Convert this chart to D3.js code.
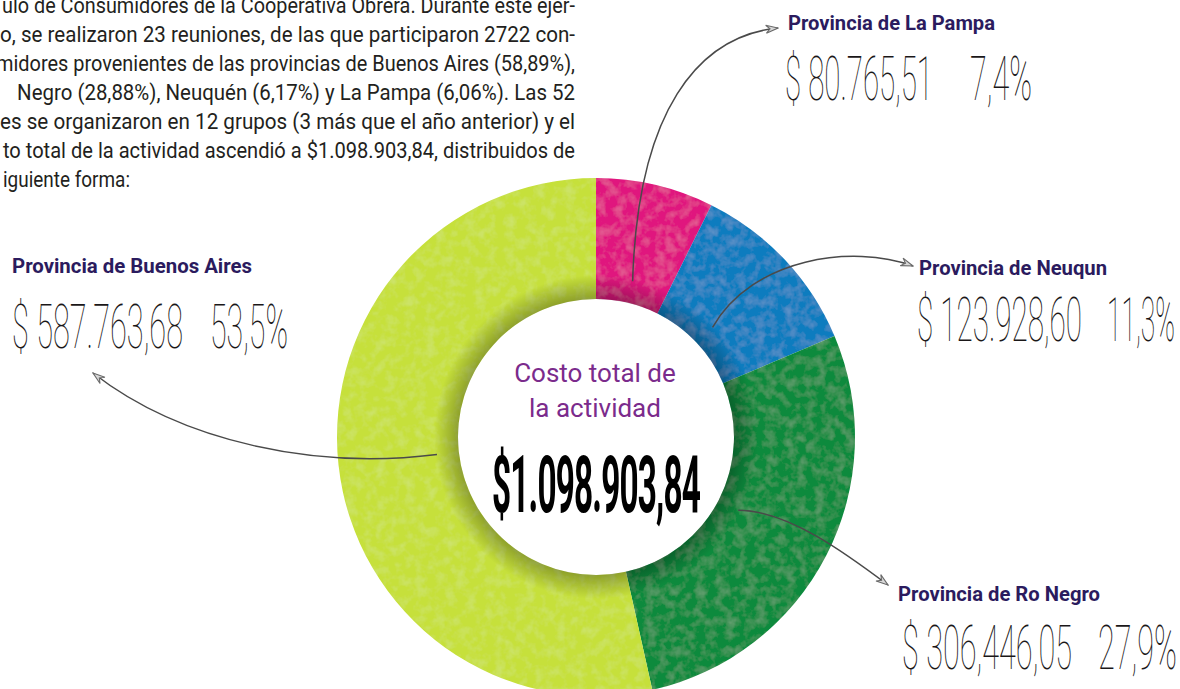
<!DOCTYPE html>
<html>
<head>
<meta charset="utf-8">
<script src="https://cdn.jsdelivr.net/npm/d3@7"></script>
<style>
  html, body { margin: 0; padding: 0; background: #fff; }
  svg { display: block; }
</style>
</head>
<body>
<div id="chart"></div>
<script>
// data
var provinces = ["Provincia de La Pampa", "Provincia de Neuqun", "Provincia de Ro Negro", "Provincia de Buenos Aires"];
var amounts = [80765.51, 123928.60, 306446.05, 587763.68];
var amountLabels = ["$ 80.765,51", "$ 123.928,60", "$ 306,446,05", "$ 587.763,68"];
var percentLabels = ["7,4%", "11,3%", "27,9%", "53,5%"];
var sliceColors = ["#e0147e", "#0a7cbf", "#0b8a3e", "#c6e03a"];
var totalLabel = "$1.098.903,84";
var centerTitle = ["Costo total de", "la actividad"];

var paragraph = [
  "ulo de Consumidores de la Cooperativa Obrera. Durante este ejer-",
  "o, se realizaron 23 reuniones, de las que participaron 2722 con-",
  "midores provenientes de las provincias de Buenos Aires (58,89%),",
  " Negro (28,88%), Neuquén (6,17%) y La Pampa (6,06%). Las 52",
  "es se organizaron en 12 grupos (3 más que el año anterior) y el",
  "to total de la actividad ascendió a $1.098.903,84, distribuidos de",
  "iguiente forma:"
];

// layout for labels: title position, amount/percent boxes, arrow end and curve handles
var labelLayout = [
  {tx: 788, ty: 30,  tw: 207, ax: 785, aw: 148, px: 970,  pw: 62, vy: 100, end: [778, 28],  h1: [5, -170],  h2: [-80, 8]},
  {tx: 919, ty: 275, tw: 188, ax: 917, aw: 165, px: 1107, pw: 68, vy: 341, end: [913, 266], h1: [40, -70],  h2: [-60, -22]},
  {tx: 898, ty: 601, tw: 202, ax: 902, aw: 170, px: 1098, pw: 79, vy: 669, end: [888, 585], h1: [50, 0],    h2: [-40, -30]},
  {tx: 12,  ty: 273, tw: 240, ax: 12,  aw: 171, px: 210,  pw: 78, vy: 348, end: [93, 373],  h1: [-120, 15], h2: [90, 70]}
];

var width = 1180, height = 689;
var cx = 596, cy = 437;
var innerR = 138, outerR = 259, connR = 160;

var svg = d3.select("#chart").append("svg")
    .attr("width", width)
    .attr("height", height);

var defs = svg.append("defs");

// faint mottled texture for the ring
var grain = defs.append("filter").attr("id", "grain").attr("x", 0).attr("y", 0).attr("width", 1).attr("height", 1);
grain.append("feTurbulence").attr("type", "fractalNoise").attr("baseFrequency", 0.1)
    .attr("numOctaves", 3).attr("seed", 4).attr("result", "noise");
grain.append("feColorMatrix").attr("in", "noise").attr("type", "matrix")
    .attr("values", "0 0 0 0 1  0 0 0 0 1  0 0 0 0 1  0 0 0 0.22 -0.09").attr("result", "spots");
grain.append("feComposite").attr("in", "spots").attr("in2", "SourceAlpha").attr("operator", "in").attr("result", "spotsIn");
var merge = grain.append("feMerge");
merge.append("feMergeNode").attr("in", "SourceGraphic");
merge.append("feMergeNode").attr("in", "spotsIn");

// darker shading along the inner edge (local coordinates of the ring)
var shade = defs.append("radialGradient").attr("id", "innerShade")
    .attr("gradientUnits", "userSpaceOnUse")
    .attr("cx", 0).attr("cy", 0).attr("r", innerR + 24);
shade.append("stop").attr("offset", innerR / (innerR + 24)).attr("stop-color", "#000").attr("stop-opacity", 0.28);
shade.append("stop").attr("offset", 1).attr("stop-color", "#000").attr("stop-opacity", 0);

defs.append("marker")
    .attr("id", "arrow")
    .attr("markerUnits", "userSpaceOnUse")
    .attr("viewBox", "0 0 14 10")
    .attr("refX", 13).attr("refY", 5)
    .attr("markerWidth", 14).attr("markerHeight", 10)
    .attr("orient", "auto")
  .append("path")
    .attr("d", "M1,1 L13,5 L1,9 L5,5 Z")
    .style("fill", "#d8d8d8")
    .style("stroke", "#6a6a6a")
    .style("stroke-width", 1.1);

// paragraph at the top left (cut at the left border like the source)
var paraStarts = [2, 0, -4, 12, 0, 3, 3];
svg.append("g").selectAll("text")
    .data(paragraph)
  .enter().append("text")
    .attr("x", function(d, i) { return paraStarts[i]; })
    .attr("y", function(d, i) { return 13 + i * 29; })
    .attr("textLength", function(d, i) { return i < paragraph.length - 1 ? 575 - paraStarts[i] : 127; })
    .attr("lengthAdjust", "spacingAndGlyphs")
    .style("font-family", "Roboto, 'Open Sans', sans-serif")
    .style("font-weight", 400)
    .style("font-size", "22px")
    .style("fill", "#231f20")
    .style("white-space", "pre")
    .text(function(d) { return d; });

// donut
var pie = d3.pie().sort(null).value(function(d) { return d; });
var arcs = pie(amounts);
var arc = d3.arc().innerRadius(innerR).outerRadius(outerR);

var ring = svg.append("g").attr("transform", "translate(" + cx + "," + cy + ")");

ring.append("g")
    .attr("filter", "url(#grain)")
  .selectAll("path")
    .data(arcs)
  .enter().append("path")
    .attr("d", arc)
    .style("fill", function(d, i) { return sliceColors[i]; });

ring.append("path")
    .attr("d", d3.arc().innerRadius(innerR).outerRadius(innerR + 24).startAngle(0).endAngle(2 * Math.PI)())
    .style("fill", "url(#innerShade)");

// connectors from each slice to its label
function midPoint(d, r) {
    var a = (d.startAngle + d.endAngle) / 2;
    return [cx + r * Math.sin(a), cy - r * Math.cos(a)];
}

svg.append("g").selectAll("path")
    .data(arcs)
  .enter().append("path")
    .attr("d", function(d, i) {
        var L = labelLayout[i];
        var s = midPoint(d, connR);
        var p = d3.path();
        p.moveTo(s[0], s[1]);
        p.bezierCurveTo(s[0] + L.h1[0], s[1] + L.h1[1],
                        L.end[0] + L.h2[0], L.end[1] + L.h2[1],
                        L.end[0], L.end[1]);
        return p.toString();
    })
    .style("fill", "none")
    .style("stroke", "#4a4a4a")
    .style("stroke-width", 1.5)
    .attr("marker-end", "url(#arrow)");

// labels
var labels = svg.append("g").selectAll("g")
    .data(arcs)
  .enter().append("g");

labels.append("text")
    .attr("x", function(d, i) { return labelLayout[i].tx; })
    .attr("y", function(d, i) { return labelLayout[i].ty; })
    .attr("textLength", function(d, i) { return labelLayout[i].tw; })
    .attr("lengthAdjust", "spacingAndGlyphs")
    .style("font-family", "Roboto, sans-serif")
    .style("font-weight", 700)
    .style("font-size", "21px")
    .style("fill", "#2b1b5e")
    .text(function(d, i) { return provinces[i]; });

labels.append("text")
    .attr("x", function(d, i) { return labelLayout[i].ax; })
    .attr("y", function(d, i) { return labelLayout[i].vy; })
    .attr("textLength", function(d, i) { return labelLayout[i].aw; })
    .attr("lengthAdjust", "spacingAndGlyphs")
    .style("font-family", "Roboto, sans-serif")
    .style("font-weight", 100)
    .style("font-size", "62px")
    .style("fill", "#1a1718")
    .text(function(d, i) { return amountLabels[i]; });

labels.append("text")
    .attr("x", function(d, i) { return labelLayout[i].px; })
    .attr("y", function(d, i) { return labelLayout[i].vy; })
    .attr("textLength", function(d, i) { return labelLayout[i].pw; })
    .attr("lengthAdjust", "spacingAndGlyphs")
    .style("font-family", "Roboto, sans-serif")
    .style("font-weight", 100)
    .style("font-size", "62px")
    .style("fill", "#1a1718")
    .text(function(d, i) { return percentLabels[i]; });

// center text
svg.append("g").selectAll("text")
    .data(centerTitle)
  .enter().append("text")
    .attr("x", cx - 1)
    .attr("y", function(d, i) { return 382 + i * 35; })
    .attr("text-anchor", "middle")
    .style("font-family", "Roboto, sans-serif")
    .style("font-weight", 400)
    .style("font-size", "26px")
    .style("fill", "#7b2b8c")
    .text(function(d) { return d; });

svg.append("text")
    .attr("x", 492)
    .attr("y", 512)
    .attr("textLength", 208)
    .attr("lengthAdjust", "spacingAndGlyphs")
    .style("font-family", "Roboto, sans-serif")
    .style("font-weight", 700)
    .style("font-size", "80px")
    .style("letter-spacing", "-2px")
    .style("fill", "#000")
    .text(totalLabel);
</script>
</body>
</html>
